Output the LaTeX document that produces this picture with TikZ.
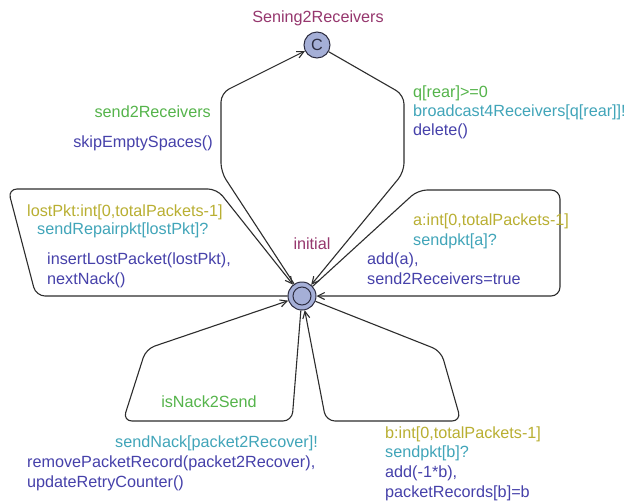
\documentclass[tikz,border=0pt]{standalone}
\usepackage{fontspec}
\setmainfont{Liberation Sans}
\usetikzlibrary{arrows.meta}
\definecolor{locname}{RGB}{150,55,110}
\definecolor{selcol}{RGB}{185,175,50}
\definecolor{guardcol}{RGB}{85,180,75}
\definecolor{synccol}{RGB}{65,165,185}
\definecolor{updcol}{RGB}{70,65,170}
\definecolor{locfill}{RGB}{165,175,215}
\definecolor{locdraw}{RGB}{45,45,65}
\definecolor{edgecol}{RGB}{45,45,45}
\tikzset{
  loc/.style={circle, draw=locdraw, fill=locfill, line width=1pt, minimum size=28pt, inner sep=0pt},
  edge/.style={draw=edgecol, line width=1.1pt, rounded corners=9pt},
  arr/.style={-{Straight Barb[length=7pt,width=7pt]}},
  lbl/.style={inner sep=0pt, text height=11.5pt, text depth=3.5pt},
  sel/.style={lbl, text=selcol},
  grd/.style={lbl, text=guardcol},
  syn/.style={lbl, text=synccol},
  upd/.style={lbl, text=updcol},
  nm/.style={lbl, text=locname}
}
\begin{document}
\begin{tikzpicture}[x=1pt,y=-1pt, font=\fontsize{16.2}{19}\selectfont]
\useasboundingbox[fill=white] (0,0) rectangle (630,504);

% locations
\node[loc] (init) at (302,296) {};
\node[circle, draw=locdraw, line width=1pt, minimum size=18pt, inner sep=0pt] (initin) at (init) {};
\node[loc, minimum size=26pt] (C) at (317,45) {\color{locdraw}C};
\node[nm] (nameC) at (318,18) {Sening2Receivers};
\node[nm] (nameI) at (312,245) {initial};

% nails
\coordinate (s1) at (221,172);
\coordinate (s2) at (221,93);
\coordinate (d1) at (404,95);
\coordinate (d2) at (404,172);
\coordinate (l1) at (217,189);
\coordinate (l2) at (8,189);
\coordinate (l3) at (36,296);
\coordinate (r1) at (418,190);
\coordinate (r2) at (560,190);
\coordinate (r3) at (560,296);
\coordinate (n1) at (292,421);
\coordinate (n2) at (123,421);
\coordinate (n3) at (146,349);
\coordinate (b1) at (441,351);
\coordinate (b2) at (461,421);
\coordinate (b3) at (326,421);

% edges
\draw[edge, arr] (init) -- (s1) -- (s2) -- (C);
\draw[edge, arr] (C) -- (d1) -- (d2) -- (init);
\draw[edge, arr] (init) -- (l3) -- (l2) -- (l1) -- (init);
\draw[edge, arr] (init) -- (r1) -- (r2) -- (r3) -- (init);
\draw[edge, arr] (init) -- (n1) -- (n2) -- (n3) -- (init);
\draw[edge, arr] (init) -- (b1) -- (b2) -- (b3) -- (init);

% labels: init -> C
\node[grd, anchor=east] (g1) at (211,113) {send2Receivers};
\node[upd, anchor=east] (u1) at (213,143) {skipEmptySpaces()};

% labels: C -> init
\node[grd, anchor=west] (g2) at (413,93) {q[rear]>=0};
\node[syn, anchor=west] (y2) at (413,112) {broadcast4Receivers[q[rear]]!};
\node[upd, anchor=west] (u2) at (413,131) {delete()};

% labels: lostPkt loop
\node[sel, anchor=west] (e3) at (27,212) {lostPkt:int[0,totalPackets-1]};
\node[syn, anchor=west] (y3) at (37,230) {sendRepairpkt[lostPkt]?};
\node[upd, anchor=west] (u3) at (47,260) {insertLostPacket(lostPkt),};
\node[upd, anchor=west] (u3b) at (47,280) {nextNack()};

% labels: a loop
\node[sel, anchor=west] (e4) at (413,221) {a:int[0,totalPackets-1]};
\node[syn, anchor=west] (y4) at (413,241) {sendpkt[a]?};
\node[upd, anchor=west] (u4) at (367,260) {add(a),};
\node[upd, anchor=west] (u4b) at (367,280) {send2Receivers=true};

% labels: nack loop
\node[grd] (g5) at (209,403) {isNack2Send};
\node[syn, anchor=west] (y5) at (115,443) {sendNack[packet2Recover]!};
\node[upd, anchor=west] (u5) at (27,463) {removePacketRecord(packet2Recover),};
\node[upd, anchor=west] (u5b) at (27,483) {updateRetryCounter()};

% labels: b loop
\node[sel, anchor=west] (e6) at (385,434) {b:int[0,totalPackets-1]};
\node[syn, anchor=west] (y6) at (385,453) {sendpkt[b]?};
\node[upd, anchor=west] (u6) at (385,473) {add(-1*b),};
\node[upd, anchor=west] (u6b) at (385,493) {packetRecords[b]=b};
\end{tikzpicture}
\end{document}
